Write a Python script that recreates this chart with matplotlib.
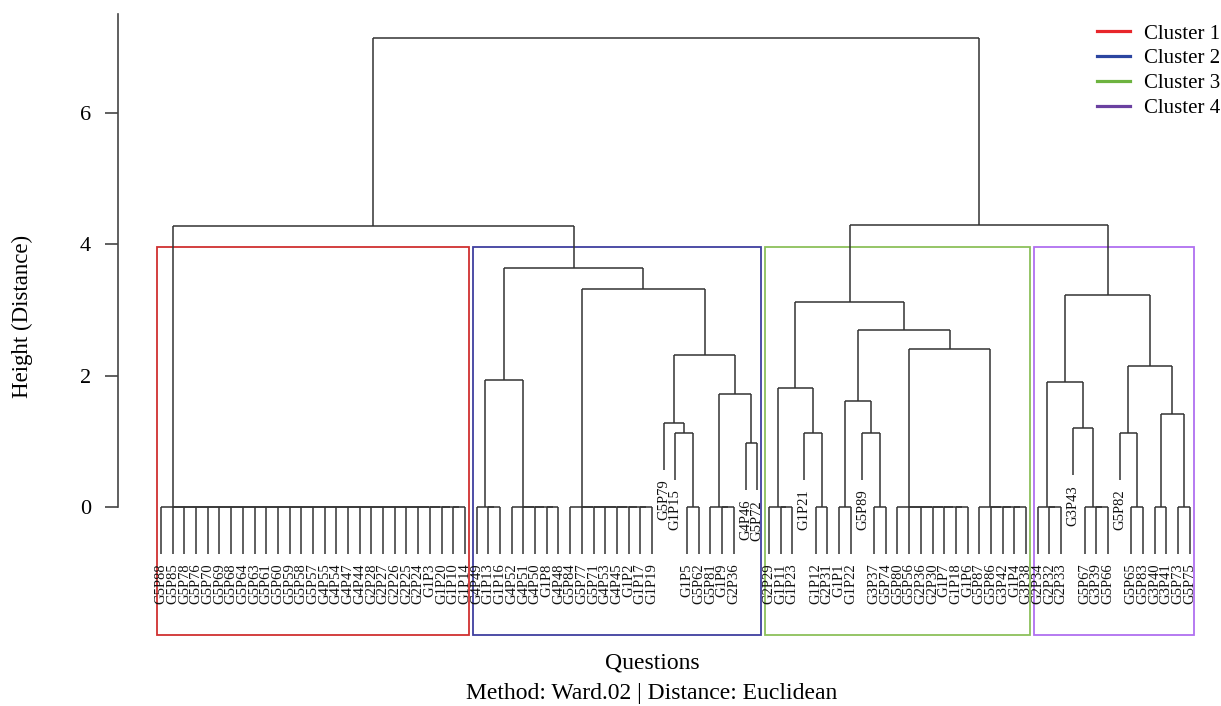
import matplotlib
matplotlib.use("Agg")
import matplotlib.pyplot as plt
from matplotlib.patches import Rectangle
from matplotlib.lines import Line2D

plt.rcParams['font.family'] = ['Liberation Serif', 'DejaVu Serif']

# leaf groups (items merged at height 0)
c1_all = ["G5P88", "G5P85", "G5P78", "G5P76", "G5P70", "G5P69", "G5P68", "G5P64",
          "G5P63", "G5P61", "G5P60", "G5P59", "G5P58", "G5P57", "G4P55", "G4P54",
          "G4P47", "G4P44", "G2P28", "G2P27", "G2P26", "G2P25", "G2P24", "G1P3",
          "G1P20", "G1P10", "G1P14"]
c2_a = ["G4P49", "G1P13", "G1P16"]
c2_b = ["G4P52", "G4P51", "G4P50", "G1P8", "G4P48"]
c2_c = ["G5P84", "G5P77", "G5P71", "G4P53", "G4P45", "G1P2", "G1P17", "G1P19"]
c2_d = ["G1P5", "G5P62"]
c2_e = ["G5P81", "G1P9", "G2P36"]
c3_a = ["G2P29", "G1P11", "G1P23"]
c3_b = ["G1P12", "G2P31"]
c3_c = ["G1P1", "G1P22"]
c3_d = ["G3P37", "G5P74"]
c3_e = ["G5P80", "G5P56", "G2P36", "G2P30", "G1P7", "G1P18", "G1P6"]
c3_f = ["G5P87", "G5P86", "G3P42", "G1P4", "G3P38"]
c4_a = ["G2P34", "G2P32", "G2P33"]
c4_b = ["G5P67", "G3P39", "G5P66"]
c4_c = ["G5P65", "G5P83"]
c4_d = ["G3P40", "G3P41"]
c4_e = ["G5P73", "G5P75"]

# merges: (height, left, right)
cluster1 = c1_all
cluster2 = (3.64, (1.93, c2_a, c2_b),
            (3.32, c2_c,
             (2.31, (1.28, "G5P79", (1.13, "G1P15", c2_d)),
              (1.72, c2_e, (0.97, "G4P46", "G5P72")))))
cluster3 = (3.12, (1.81, c3_a, (1.13, "G1P21", c3_b)),
            (2.70, (1.61, c3_c, (1.13, "G5P89", c3_d)),
             (2.41, c3_e, c3_f)))
cluster4 = (3.23, (1.90, c4_a, (1.20, "G3P43", c4_b)),
            (2.15, (1.13, "G5P82", c4_c), (1.42, c4_d, c4_e)))
tree = (7.14, (4.28, cluster1, cluster2), (4.30, cluster3, cluster4))

clusters = [cluster1, cluster2, cluster3, cluster4]
cluster_names = ["Cluster 1", "Cluster 2", "Cluster 3", "Cluster 4"]
legend_colors = ["#e8262a", "#2b45a0", "#6db33f", "#6a40a0"]
box_colors = ["#d03030", "#3f3f9f", "#8cc05a", "#b070f0"]

hang = 0.1 * tree[0]
line_col = "#333333"


def as_node(n):
    # a list of tied leaves becomes a chain of zero-height merges
    if isinstance(n, list):
        if len(n) == 1:
            return n[0]
        return (0.0, n[0], as_node(n[1:]))
    return n


def count_leaves(n):
    n = as_node(n)
    if isinstance(n, str):
        return 1
    return count_leaves(n[1]) + count_leaves(n[2])


fig = plt.figure(figsize=(12.21, 7.06), dpi=100)
ax = fig.add_axes([118 / 1221, 71 / 706, 1097 / 1221, 621 / 706])

counter = [0]


def draw(n, parent_h):
    n = as_node(n)
    if isinstance(n, str):
        x = counter[0]
        counter[0] += 1
        bottom = parent_h - hang
        ax.plot([x, x], [bottom, parent_h], color=line_col, lw=1.1, solid_capstyle='butt')
        ax.annotate(n, (x, bottom), xytext=(0, -7), textcoords='offset points',
                    rotation=90, ha='center', va='top', fontsize=10.5, color='#111111')
        return x
    h, left, right = n
    lx = draw(left, h)
    rx = draw(right, h)
    ax.plot([lx, rx], [h, h], color=line_col, lw=1.1, solid_capstyle='butt')
    x = (lx + rx) / 2
    if parent_h is not None:
        ax.plot([x, x], [h, parent_h], color=line_col, lw=1.1, solid_capstyle='butt')
    return x


draw(tree, None)

ax.set_xlim(-3.678, 90.16)
ax.set_ylim(-1.949, 7.507)

# cluster rectangles, rect.hclust style
heights = sorted([tree[0], tree[1][0], tree[2][0], cluster2[0], cluster3[0], cluster4[0]], reverse=True)
rect_top = (heights[2] + heights[3]) / 2
start = 0
for cl, col in zip(clusters, box_colors):
    k = count_leaves(cl)
    x0 = start - 0.34
    x1 = start + k - 1 + 0.33
    ax.add_patch(Rectangle((x0, -1.949), x1 - x0, rect_top + 1.949, fill=False,
                           edgecolor=col, lw=1.3, clip_on=False))
    start += k

for s in ["top", "right", "bottom"]:
    ax.spines[s].set_visible(False)
ax.spines["left"].set_bounds(0, 7.5)
ax.spines["left"].set_color("#444444")
ax.spines["left"].set_linewidth(1.2)
ax.set_xticks([])
ax.set_yticks([0, 2, 4, 6])
ax.tick_params(axis='y', length=9.5, width=1.2, color="#444444", pad=10, labelsize=16)

fig.text(22 / 1221, 1 - 316 / 706, "Height (Distance)", rotation=90,
         ha='center', va='center', fontsize=16.5)
fig.text(652 / 1221, 1 - 663 / 706, "Questions", ha='center', va='center', fontsize=17)
fig.text(652 / 1221, 1 - 693 / 706, "Method: Ward.02 | Distance: Euclidean",
         ha='center', va='center', fontsize=17)

handles = [Line2D([], [], color=c, lw=2.3) for c in legend_colors]
fig.legend(handles, cluster_names, loc='upper left', bbox_to_anchor=(1097 / 1221, 1 - 24 / 706),
           frameon=False, fontsize=15, handlelength=1.6, handletextpad=0.65,
           labelspacing=0.25, borderpad=0, borderaxespad=0)

fig.savefig("out.png", dpi=100)
